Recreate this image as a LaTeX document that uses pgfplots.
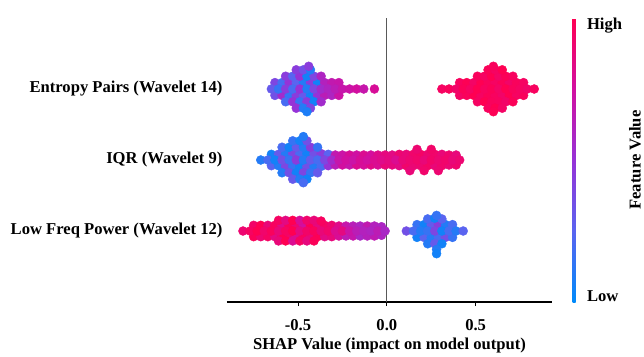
\documentclass[border=0pt]{standalone}
\usepackage{fontspec}
\setmainfont{Liberation Serif}
\usepackage{pgfplots}
\usepackage{pgfplotstable}
\pgfplotsset{compat=1.18}
\newcommand\lab{\fontsize{16.6}{19}\selectfont\bfseries}

% Entropy Pairs (Wavelet 14), row at y=2
\pgfplotstableread{
x y c
-0.63 2.09 0.40
-0.59 2.09 0.20
-0.55 2.09 0.50
-0.51 2.09 0.25
-0.47 2.09 0.10
-0.43 2.09 0.45
-0.39 2.09 0.05
-0.35 2.09 0.62
-0.31 2.09 0.68
-0.27 2.09 0.70
-0.63 1.91 0.35
-0.59 1.91 0.55
-0.55 1.91 0.15
-0.51 1.91 0.45
-0.47 1.91 0.30
-0.43 1.91 0.05
-0.39 1.91 0.50
-0.35 1.91 0.65
-0.31 1.91 0.60
-0.27 1.91 0.72
-0.57 2.18 0.45
-0.53 2.18 0.25
-0.49 2.18 0.50
-0.45 2.18 0.05
-0.41 2.18 0.40
-0.37 2.18 0.60
-0.57 1.82 0.20
-0.53 1.82 0.50
-0.49 1.82 0.15
-0.45 1.82 0.45
-0.41 1.82 0.05
-0.37 1.82 0.55
-0.51 2.27 0.45
-0.47 2.27 0.35
-0.43 2.27 0.10
-0.51 1.73 0.50
-0.47 1.73 0.10
-0.43 1.73 0.40
-0.44 2.32 0.45
-0.45 1.68 0.08
-0.65 2.00 0.30
-0.61 2.00 0.15
-0.57 2.00 0.45
-0.53 2.00 0.20
-0.49 2.00 0.50
-0.45 2.00 0.10
-0.41 2.00 0.40
-0.37 2.00 0.55
-0.33 2.00 0.60
-0.29 2.00 0.65
-0.25 2.00 0.70
-0.21 2.00 0.72
-0.17 2.00 0.75
-0.13 2.00 0.70
-0.07 2.00 0.78
0.41 2.09 0.96
0.45 2.09 0.99
0.49 2.09 0.94
0.53 2.09 1.00
0.57 2.09 0.97
0.61 2.09 0.95
0.65 2.09 0.98
0.69 2.09 0.93
0.73 2.09 0.97
0.77 2.09 0.95
0.41 1.91 0.94
0.45 1.91 0.97
0.49 1.91 1.00
0.53 1.91 0.95
0.57 1.91 0.98
0.61 1.91 0.96
0.65 1.91 0.93
0.69 1.91 1.00
0.73 1.91 0.95
0.77 1.91 0.97
0.51 2.18 0.97
0.55 2.18 0.95
0.59 2.18 1.00
0.63 2.18 0.94
0.67 2.18 0.98
0.71 2.18 0.96
0.51 1.82 0.95
0.55 1.82 1.00
0.59 1.82 0.97
0.63 1.82 0.96
0.67 1.82 0.93
0.71 1.82 0.98
0.57 2.27 0.98
0.61 2.27 0.95
0.65 2.27 1.00
0.57 1.73 0.96
0.61 1.73 1.00
0.65 1.73 0.94
0.60 2.32 0.97
0.60 1.68 0.99
0.31 2.00 0.95
0.35 2.00 0.97
0.39 2.00 0.93
0.43 2.00 0.98
0.47 2.00 0.95
0.51 2.00 1.00
0.55 2.00 0.96
0.59 2.00 0.98
0.63 2.00 0.94
0.67 2.00 1.00
0.71 2.00 0.97
0.75 2.00 0.95
0.79 2.00 0.93
0.83 2.00 0.96
}\entropy

% IQR (Wavelet 9), row at y=1
\pgfplotstableread{
x y c
-0.65 1.08 0.05
-0.61 1.08 0.30
-0.57 1.09 0.10
-0.53 1.09 0.40
-0.49 1.09 0.20
-0.45 1.09 0.05
-0.41 1.09 0.35
-0.37 1.09 0.45
-0.33 1.08 0.25
-0.29 1.07 0.68
-0.25 1.07 0.72
-0.21 1.07 0.78
-0.17 1.07 0.74
-0.13 1.07 0.80
-0.09 1.07 0.76
-0.05 1.07 0.82
-0.01 1.07 0.86
0.03 1.07 0.84
0.07 1.08 0.90
0.11 1.08 0.88
0.15 1.08 0.92
0.19 1.08 0.94
0.23 1.08 0.90
0.27 1.08 0.92
0.31 1.08 0.88
0.35 1.07 0.91
0.39 1.07 0.87
-0.65 0.92 0.25
-0.61 0.92 0.10
-0.57 0.91 0.40
-0.53 0.91 0.15
-0.49 0.91 0.05
-0.45 0.91 0.35
-0.41 0.91 0.10
-0.37 0.91 0.20
-0.33 0.92 0.50
-0.29 0.93 0.65
-0.25 0.93 0.75
-0.21 0.93 0.70
-0.17 0.93 0.80
-0.13 0.93 0.77
-0.09 0.93 0.83
-0.05 0.93 0.79
-0.01 0.93 0.88
0.03 0.93 0.86
0.07 0.92 0.84
0.11 0.92 0.92
0.15 0.92 0.89
0.19 0.92 0.90
0.23 0.92 0.94
0.27 0.92 0.88
0.31 0.92 0.92
0.35 0.93 0.89
0.39 0.93 0.91
-0.59 1.18 0.20
-0.55 1.18 0.05
-0.51 1.18 0.30
-0.47 1.18 0.10
-0.43 1.18 0.45
-0.39 1.18 0.15
-0.59 0.82 0.10
-0.55 0.82 0.35
-0.51 0.82 0.05
-0.47 0.82 0.40
-0.43 0.82 0.15
-0.39 0.82 0.30
0.17 1.15 0.90
0.25 1.15 0.93
0.13 0.85 0.88
0.21 0.85 0.92
0.29 0.85 0.90
-0.53 1.27 0.15
-0.49 1.27 0.05
-0.45 1.27 0.35
-0.53 0.73 0.30
-0.49 0.73 0.10
-0.45 0.73 0.05
-0.47 1.33 0.10
-0.47 0.68 0.20
-0.71 1.00 0.10
-0.67 1.00 0.20
-0.63 1.00 0.05
-0.59 1.00 0.35
-0.55 1.00 0.15
-0.51 1.00 0.45
-0.47 1.00 0.10
-0.43 1.00 0.30
-0.39 1.00 0.20
-0.35 1.00 0.40
-0.31 1.00 0.55
-0.27 1.00 0.70
-0.23 1.00 0.75
-0.19 1.00 0.72
-0.15 1.00 0.78
-0.11 1.00 0.75
-0.07 1.00 0.80
-0.03 1.00 0.82
0.01 1.00 0.85
0.05 1.00 0.80
0.09 1.00 0.88
0.13 1.00 0.90
0.17 1.00 0.92
0.21 1.00 0.88
0.25 1.00 0.93
0.29 1.00 0.90
0.33 1.00 0.92
0.37 1.00 0.88
0.41 1.00 0.90
}\iqr

% Low Freq Power (Wavelet 12), row at y=0
\pgfplotstableread{
x y c
-0.75 0.08 0.93
-0.71 0.08 1.00
-0.67 0.08 0.88
-0.63 0.08 0.96
-0.59 0.08 0.82
-0.55 0.08 0.98
-0.51 0.08 0.90
-0.47 0.08 0.75
-0.43 0.08 1.00
-0.39 0.08 0.86
-0.35 0.08 0.94
-0.31 0.08 0.90
-0.27 0.07 0.82
-0.23 0.07 0.70
-0.19 0.07 0.64
-0.15 0.07 0.60
-0.11 0.07 0.68
-0.07 0.07 0.62
-0.03 0.06 0.59
-0.75 -0.08 0.98
-0.71 -0.08 0.90
-0.67 -0.08 0.95
-0.63 -0.08 0.85
-0.59 -0.08 1.00
-0.55 -0.08 0.92
-0.51 -0.08 0.80
-0.47 -0.08 0.96
-0.43 -0.08 0.88
-0.39 -0.08 0.99
-0.35 -0.08 0.84
-0.31 -0.08 0.87
-0.27 -0.07 0.78
-0.23 -0.07 0.66
-0.19 -0.07 0.70
-0.15 -0.07 0.58
-0.11 -0.07 0.63
-0.07 -0.07 0.67
-0.03 -0.06 0.60
-0.61 0.15 0.95
-0.57 0.15 0.85
-0.53 0.15 1.00
-0.49 0.15 0.78
-0.45 0.15 0.92
-0.41 0.15 0.88
-0.37 0.14 0.96
-0.61 -0.14 0.88
-0.57 -0.14 1.00
-0.53 -0.14 0.80
-0.49 -0.14 0.95
-0.45 -0.14 0.86
-0.41 -0.14 0.98
-0.81 0.00 0.90
-0.77 0.00 0.95
-0.73 0.00 1.00
-0.69 0.00 0.92
-0.65 0.00 0.97
-0.61 0.00 0.88
-0.57 0.00 0.95
-0.53 0.00 1.00
-0.49 0.00 0.85
-0.45 0.00 0.93
-0.41 0.00 0.97
-0.37 0.00 0.88
-0.33 0.00 0.92
-0.29 0.00 0.80
-0.25 0.00 0.85
-0.21 0.00 0.72
-0.17 0.00 0.65
-0.13 0.00 0.62
-0.09 0.00 0.60
-0.05 0.00 0.66
-0.01 0.00 0.58
0.17 0.09 0.15
0.21 0.09 0.05
0.25 0.09 0.30
0.29 0.09 0.45
0.33 0.09 0.10
0.37 0.09 0.20
0.17 -0.09 0.05
0.21 -0.09 0.25
0.25 -0.09 0.10
0.29 -0.09 0.20
0.33 -0.09 0.35
0.37 -0.09 0.15
0.23 0.17 0.20
0.27 0.18 0.05
0.31 0.17 0.25
0.23 -0.18 0.10
0.27 -0.18 0.30
0.31 -0.18 0.05
0.28 0.22 0.15
0.28 -0.26 0.10
0.28 -0.32 0.05
0.11 0.00 0.35
0.15 0.00 0.20
0.19 0.00 0.10
0.23 0.00 0.15
0.27 0.00 0.40
0.31 0.00 0.05
0.35 0.00 0.20
0.39 0.00 0.10
0.43 0.00 0.25
}\lowfreq

\begin{document}
\begin{tikzpicture}
\useasboundingbox (-227pt,-54pt) rectangle (417pt,302pt);
\begin{axis}[
  at={(0,0)}, anchor=south west,
  scale only axis, width=325pt, height=284pt,
  xmin=-0.9, xmax=0.93, ymin=-1, ymax=3,
  axis x line*=bottom,
  axis y line*=left,
  y axis line style={draw=none},
  x axis line style={line width=1.2pt, black},
  xtick={-0.5,0,0.5},
  xticklabel style={font=\lab, yshift=-10pt},
  xtick style={black, line width=0.8pt},
  tick align=outside,
  major tick length=4pt,
  ytick={0,1,2},
  yticklabels={Low Freq Power (Wavelet 12), IQR (Wavelet 9), Entropy Pairs (Wavelet 14)},
  yticklabel style={font=\lab, xshift=3pt},
  ytick style={draw=none},
  /pgf/number format/assume math mode=true,
  /pgf/number format/fixed, /pgf/number format/fixed zerofill, /pgf/number format/precision=1,
  xlabel={SHAP Value (impact on model output)},
  xlabel style={font=\lab, yshift=0pt},
  colormap={shap}{rgb255=(0,138,250); rgb255=(90,100,240); rgb255=(150,50,215); rgb255=(210,15,160); rgb255=(255,0,82)},
  point meta min=0, point meta max=1,
  colorbar,
  colorbar style={
    at={(parent axis.north east)}, anchor=north west, xshift=12pt,
    width=3pt,
    ytick={0.02,0.975}, yticklabels={Low,High},
    yticklabel style={font=\lab, xshift=8pt},
    major tick length=0pt,
    tick style={draw=none},
    axis line style={draw=none},
    ylabel={Feature Value},
    ylabel style={font=\lab},
    /pgf/number format/assume math mode=true,
  },
]
\addplot[gray!70!black, line width=0.9pt, forget plot] coordinates {(0,-1) (0,3)};
\addplot[scatter, only marks, mark=*, mark size=4.5pt,
  scatter src=explicit,
  scatter/use mapped color={draw=mapped color, fill=mapped color}]
  table[x=x, y=y, meta=c] {\entropy};
\addplot[scatter, only marks, mark=*, mark size=4.5pt,
  scatter src=explicit,
  scatter/use mapped color={draw=mapped color, fill=mapped color}]
  table[x=x, y=y, meta=c] {\iqr};
\addplot[scatter, only marks, mark=*, mark size=4.5pt,
  scatter src=explicit,
  scatter/use mapped color={draw=mapped color, fill=mapped color}]
  table[x=x, y=y, meta=c] {\lowfreq};
\end{axis}
\end{tikzpicture}
\end{document}
